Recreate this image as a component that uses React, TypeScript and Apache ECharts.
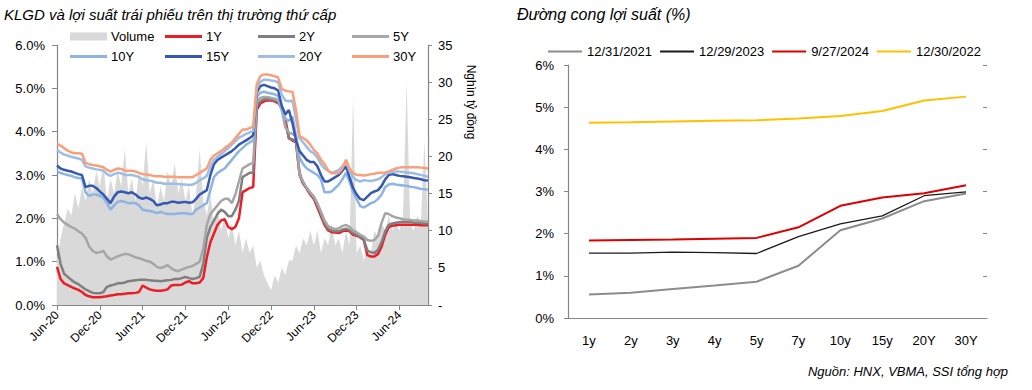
import React, { useEffect, useRef } from "react";
import * as echarts from "echarts";

// ---------- Left chart data (half-monthly, Jun-2020 .. Sep-2024) ----------
const tickLabels = ["Jun-20", "Dec-20", "Jun-21", "Dec-21", "Jun-22", "Dec-22", "Jun-23", "Dec-23", "Jun-24"];
const monthNames = ["Jan", "Feb", "Mar", "Apr", "May", "Jun", "Jul", "Aug", "Sep", "Oct", "Nov", "Dec"];

const volume = [
  6, 9, 11, 13, 12, 15, 13, 16, 14, 17, 15, 18, 16, 19, 14, 17, 15, 18, 16, 21, 15, 17, 14, 18, 16, 22, 15, 17, 13, 16,
  14, 18, 16, 19, 15, 17, 14, 16, 12, 15, 21, 14, 12, 15, 11, 13, 10, 12, 9, 11, 8, 10, 7, 9, 7, 8, 5, 6, 4, 3,
  2, 4, 3, 5, 4, 6, 6, 8, 7, 9, 8, 10, 8, 10, 7, 9, 8, 11, 8, 9, 7, 10, 8, 28, 7, 8, 6, 8, 7, 10,
  9, 11, 10, 12, 10, 11, 10, 12, 30, 11, 10, 12, 11, 22, 11,
];
const y1 = [
  0.88, 0.6, 0.5, 0.46, 0.42, 0.38, 0.35, 0.3, 0.23, 0.2, 0.18, 0.18, 0.18, 0.19, 0.2, 0.22, 0.23, 0.25, 0.25, 0.26,
  0.27, 0.27, 0.28, 0.3, 0.45, 0.4, 0.36, 0.34, 0.33, 0.33, 0.34, 0.36, 0.45, 0.46, 0.46, 0.47, 0.52, 0.55, 0.5, 0.5,
  0.52, 0.62, 1.1, 1.45, 1.65, 1.85, 1.95, 1.98, 1.8, 1.75, 1.8, 2.0, 2.6, 2.65, 2.7, 2.72, 4.5, 4.65, 4.7, 4.72,
  4.72, 4.7, 4.66, 4.55, 4.3, 3.85, 3.8, 3.75, 3.0, 2.8, 2.68, 2.55, 2.45, 2.25, 2.05, 1.85, 1.72, 1.68, 1.67, 1.66,
  1.7, 1.72, 1.7, 1.62, 1.6, 1.56, 1.5, 1.15, 1.12, 1.12, 1.18, 1.35, 1.62, 1.8, 1.83, 1.84, 1.85, 1.85, 1.85, 1.85,
  1.85, 1.85, 1.84, 1.84, 1.84,
];
const y2 = [
  1.38, 0.95, 0.72, 0.65, 0.58, 0.52, 0.48, 0.42, 0.36, 0.32, 0.28, 0.27, 0.27, 0.3, 0.42, 0.45, 0.47, 0.5, 0.5, 0.52,
  0.55, 0.56, 0.57, 0.58, 0.58, 0.58, 0.57, 0.56, 0.56, 0.55, 0.56, 0.57, 0.58, 0.6, 0.6, 0.62, 0.65, 0.62, 0.6, 0.62,
  0.65, 0.95, 1.55, 1.8, 1.95, 2.1, 2.2, 2.15, 2.05, 2.05, 2.2, 2.4, 2.95, 3.0, 3.05, 3.05, 4.6, 4.7, 4.75, 4.75,
  4.74, 4.72, 4.7, 4.55, 4.2, 3.85, 3.82, 3.78, 3.05, 2.82, 2.7, 2.58, 2.48, 2.3, 2.1, 1.9, 1.75, 1.72, 1.7, 1.7,
  1.74, 1.76, 1.72, 1.66, 1.62, 1.57, 1.52, 1.25, 1.22, 1.2, 1.28, 1.45, 1.7, 1.85, 1.88, 1.9, 1.91, 1.92, 1.92, 1.92,
  1.9, 1.9, 1.89, 1.88, 1.88,
];
const y5 = [
  2.1, 1.98, 1.9, 1.85, 1.8, 1.76, 1.7, 1.65, 1.55, 1.35, 1.25, 1.2, 1.22, 1.25, 1.12, 1.05, 1.08, 1.12, 1.15, 1.18,
  1.17, 1.14, 1.1, 1.08, 1.05, 1.02, 1.0, 0.95, 0.88, 0.85, 0.88, 0.92, 0.85, 0.8, 0.78, 0.82, 0.85, 0.88, 0.9, 0.95,
  1.0, 1.3, 1.85, 2.1, 2.2, 2.3, 2.4, 2.45, 2.45, 2.35, 2.55, 2.85, 3.15, 3.2, 3.25, 3.28, 4.7, 4.78, 4.8, 4.8,
  4.78, 4.76, 4.72, 4.5, 4.1, 3.98, 3.95, 3.9, 3.0, 2.85, 2.7, 2.6, 2.5, 2.35, 2.15, 1.95, 1.82, 1.78, 1.75, 1.77,
  1.82, 1.85, 1.8, 1.72, 1.68, 1.62, 1.58, 1.5, 1.48, 1.5, 1.6, 1.9, 2.12, 2.1, 2.05, 2.02, 2.0, 1.98, 1.97, 1.96,
  1.95, 1.95, 1.94, 1.93, 1.92,
];
const y10 = [
  3.08, 3.05, 3.02, 3.0, 2.98, 2.95, 2.93, 2.92, 2.6, 2.52, 2.55, 2.55, 2.52, 2.48, 2.35, 2.2, 2.3, 2.38, 2.4, 2.38,
  2.35, 2.36, 2.35, 2.3, 2.2, 2.18, 2.17, 2.15, 2.12, 2.15, 2.12, 2.1, 2.1, 2.1, 2.11, 2.12, 2.12, 2.1, 2.1, 2.2,
  2.25, 2.3, 2.35, 2.65, 2.95, 3.05, 3.1, 3.15, 3.25, 3.35, 3.45, 3.55, 3.62, 3.7, 3.75, 3.8, 4.8, 4.9, 4.92, 4.9,
  4.88, 4.86, 4.82, 4.5, 4.3, 4.25, 4.35, 3.9, 3.4, 3.25, 3.15, 3.1, 3.05, 3.0, 2.9, 2.6, 2.6, 2.62, 2.7, 2.78,
  2.9, 3.05, 2.85, 2.6, 2.45, 2.28, 2.25, 2.3, 2.35, 2.38, 2.45, 2.55, 2.72, 2.78, 2.8, 2.78, 2.77, 2.76, 2.75, 2.73,
  2.72, 2.7, 2.68, 2.67, 2.66,
];
const y15 = [
  3.22, 3.15, 3.12, 3.1, 3.08, 3.05, 3.02, 3.0, 2.72, 2.75, 2.75, 2.7, 2.62, 2.55, 2.45, 2.35, 2.5, 2.6, 2.62, 2.6,
  2.58, 2.6, 2.55, 2.48, 2.45, 2.48, 2.45, 2.4, 2.3, 2.32, 2.35, 2.35, 2.38, 2.38, 2.36, 2.37, 2.38, 2.36, 2.37, 2.45,
  2.55, 2.6, 2.65, 3.0, 3.25, 3.35, 3.4, 3.45, 3.5, 3.55, 3.62, 3.7, 3.75, 3.8, 3.85, 3.92, 4.9, 5.05, 5.08, 5.05,
  5.02, 5.0, 4.95, 4.6, 4.4, 4.5, 4.2, 3.8, 3.55, 3.45, 3.35, 3.3, 3.3, 3.2, 3.0, 2.85, 2.85, 2.9, 2.95, 3.0,
  3.1, 3.2, 2.95, 2.7, 2.55, 2.45, 2.42, 2.5, 2.58, 2.62, 2.65, 2.75, 2.9, 3.0, 3.02, 3.0, 2.98, 2.97, 2.96, 2.95,
  2.93, 2.92, 2.9, 2.88, 2.87,
];
const y20 = [
  3.58, 3.52, 3.47, 3.45, 3.42, 3.4, 3.38, 3.35, 3.2, 3.17, 3.15, 3.13, 3.12, 3.1, 3.02, 2.98, 3.02, 3.05, 3.04, 3.0,
  3.0, 3.0, 2.98, 2.95, 2.9, 2.88, 2.87, 2.85, 2.82, 2.82, 2.8, 2.8, 2.8, 2.8, 2.79, 2.78, 2.78, 2.77, 2.78, 2.82,
  2.88, 2.92, 2.98, 3.2, 3.35, 3.42, 3.48, 3.55, 3.62, 3.7, 3.78, 3.86, 3.9, 3.95, 3.98, 4.02, 5.0, 5.15, 5.2, 5.2,
  5.18, 5.17, 5.14, 4.85, 4.72, 4.7, 4.72, 4.3, 3.85, 3.75, 3.65, 3.55, 3.5, 3.4, 3.25, 3.15, 3.1, 3.05, 3.08, 3.12,
  3.2, 3.3, 3.1, 2.95, 2.88, 2.85, 2.88, 2.87, 2.86, 2.88, 2.9, 2.95, 3.02, 3.05, 3.07, 3.08, 3.08, 3.07, 3.06, 3.05,
  3.04, 3.02, 3.0, 2.98, 2.96,
];
const y30 = [
  3.72, 3.68, 3.62, 3.56, 3.52, 3.5, 3.5, 3.49, 3.28, 3.25, 3.23, 3.22, 3.2, 3.18, 3.12, 3.08, 3.12, 3.15, 3.14, 3.1,
  3.1, 3.1, 3.08, 3.05, 3.02, 3.01, 3.0, 2.98, 2.97, 2.97, 2.96, 2.96, 2.96, 2.96, 2.95, 2.95, 2.95, 2.95, 2.95, 3.0,
  3.05, 3.1, 3.15, 3.35, 3.45, 3.5, 3.55, 3.62, 3.68, 3.75, 3.85, 3.95, 4.05, 4.05, 4.08, 4.12, 5.1, 5.28, 5.32, 5.32,
  5.3, 5.28, 5.25, 4.98, 4.95, 4.93, 4.92, 4.5, 3.9, 3.85, 3.8, 3.7, 3.58, 3.5, 3.35, 3.25, 3.1, 3.04, 3.04, 3.05,
  3.15, 3.35, 3.15, 3.05, 3.0, 3.0, 2.99, 3.0, 3.02, 3.03, 3.05, 3.05, 3.06, 3.08, 3.12, 3.15, 3.17, 3.18, 3.18, 3.18,
  3.18, 3.18, 3.17, 3.16, 3.15,
];

// ---------- Right chart data (yield curves) ----------
const tenors = ["1y", "2y", "3y", "4y", "5y", "7y", "10y", "15y", "20Y", "30Y"];
const curve2021 = [0.56, 0.6, 0.69, 0.77, 0.86, 1.24, 2.08, 2.36, 2.77, 2.95];
const curve2023 = [1.54, 1.54, 1.56, 1.55, 1.53, 1.93, 2.23, 2.42, 2.9, 2.99];
const curve2024 = [1.84, 1.85, 1.86, 1.88, 1.9, 2.15, 2.66, 2.86, 2.96, 3.15];
const curve2022 = [4.63, 4.64, 4.66, 4.68, 4.69, 4.73, 4.79, 4.91, 5.16, 5.25];

const NARROW = "'Liberation Sans Narrow', 'Arial Narrow', 'Liberation Sans', Arial, sans-serif";
const SANS = "'Liberation Sans', Arial, sans-serif";
const AXIS_GRAY = "#868686";

const categories: string[] = volume.map((_, k) => {
  const m = 5 + Math.floor(k / 2);
  const yr = 2020 + Math.floor(m / 12);
  return `${k % 2 === 0 ? "01" : "15"}-${monthNames[m % 12]}-${yr}`;
});

const lineSeries = [
  { name: "1Y", data: y1, color: "#ee1c25" },
  { name: "2Y", data: y2, color: "#7f7f7f" },
  { name: "5Y", data: y5, color: "#a6a6a6" },
  { name: "10Y", data: y10, color: "#8eb4e3" },
  { name: "15Y", data: y15, color: "#3558b0" },
  { name: "20Y", data: y20, color: "#9dbde6" },
  { name: "30Y", data: y30, color: "#f9a07a" },
];

const leftLegend = [
  { name: "Volume", left: 70, cy: 37 },
  { name: "1Y", left: 165, cy: 37 },
  { name: "2Y", left: 258, cy: 37 },
  { name: "5Y", left: 352, cy: 37 },
  { name: "10Y", left: 70, cy: 57 },
  { name: "15Y", left: 165, cy: 57 },
  { name: "20Y", left: 258, cy: 57 },
  { name: "30Y", left: 352, cy: 57 },
];

export default function App() {
  const ref = useRef<HTMLDivElement>(null);
  useEffect(() => {
    if (!ref.current) return;
    const chart = echarts.init(ref.current, undefined, { renderer: "svg" });
    const legends: any[] = leftLegend.map((it) => ({
      data: [{ name: it.name, icon: "rect" }],
      left: it.left,
      top: it.cy - 7,
      padding: 0,
      itemGap: 0,
      itemWidth: 37,
      itemHeight: it.name === "Volume" ? 8 : 3,
      selectedMode: false,
      textStyle: { fontFamily: NARROW, fontSize: 13, color: "#000", padding: [0, 0, 0, -1] },
    }));
    legends.push({
      data: ["12/31/2021", "12/29/2023", "9/27/2024", "12/30/2022"].map((n) => ({ name: n, icon: "rect" })),
      left: 548,
      top: 45,
      padding: 0,
      itemGap: 8,
      itemWidth: 34,
      itemHeight: 2,
      selectedMode: false,
      textStyle: { fontFamily: SANS, fontSize: 13, color: "#000" },
    });

    const option: any = {
      animation: false,
      backgroundColor: "#fff",
      legend: legends,
      grid: [
        { left: 57, right: 604, top: 45, bottom: 85 },
        { left: 568, right: 45, top: 65, bottom: 72 },
      ],
      xAxis: [
        {
          type: "category",
          gridIndex: 0,
          data: categories,
          boundaryGap: false,
          axisLine: { lineStyle: { color: AXIS_GRAY, width: 1.2 } },
          axisTick: { interval: (i: number) => i % 12 === 0, length: 5, lineStyle: { color: AXIS_GRAY } },
          axisLabel: {
            interval: (i: number) => i % 12 === 0,
            formatter: (_v: string, i: number) => tickLabels[i / 12] ?? "",
            rotate: 45,
            margin: 8,
            fontFamily: NARROW,
            fontSize: 12,
            color: "#000",
          },
        },
        {
          type: "category",
          gridIndex: 1,
          data: tenors,
          boundaryGap: true,
          axisLine: { lineStyle: { color: AXIS_GRAY, width: 1.2 } },
          axisTick: { inside: true, length: 4, interval: 0, lineStyle: { color: AXIS_GRAY } },
          axisLabel: { margin: 16, fontFamily: SANS, fontSize: 13, color: "#000" },
        },
      ],
      yAxis: [
        {
          type: "value",
          gridIndex: 0,
          min: 0,
          max: 6,
          interval: 1,
          splitLine: { show: false },
          axisLine: { show: true, lineStyle: { color: AXIS_GRAY, width: 1.2 } },
          axisTick: { show: true, length: 5, lineStyle: { color: AXIS_GRAY } },
          axisLabel: {
            formatter: (v: number) => v.toFixed(1) + "%",
            margin: 12,
            fontFamily: NARROW,
            fontSize: 13,
            color: "#000",
          },
        },
        {
          type: "value",
          gridIndex: 0,
          position: "right",
          min: 0,
          max: 35,
          interval: 5,
          splitLine: { show: false },
          axisLine: { show: true, lineStyle: { color: AXIS_GRAY, width: 1.2 } },
          axisTick: { show: true, length: 4, lineStyle: { color: AXIS_GRAY } },
          axisLabel: {
            formatter: (v: number) => (v === 0 ? "-" : String(v)),
            margin: 10,
            fontFamily: NARROW,
            fontSize: 13,
            color: "#000",
          },
        },
        {
          type: "value",
          gridIndex: 1,
          min: 0,
          max: 6,
          interval: 1,
          splitLine: { show: false },
          axisLine: { show: true, lineStyle: { color: AXIS_GRAY, width: 1.2 } },
          axisTick: { show: true, length: 4, lineStyle: { color: AXIS_GRAY } },
          axisLabel: { formatter: "{value}%", margin: 14, fontFamily: SANS, fontSize: 13, color: "#000" },
        },
        {
          type: "value",
          gridIndex: 1,
          min: 0,
          max: 6,
          interval: 1,
          splitLine: { show: false },
          axisLine: { show: false },
          axisTick: { show: true, inside: true, length: 4, lineStyle: { color: AXIS_GRAY } },
          axisLabel: { show: false },
        },
      ],
      series: [
        {
          name: "Volume",
          type: "line",
          xAxisIndex: 0,
          yAxisIndex: 1,
          data: volume,
          symbol: "none",
          color: "#d9d9d9",
          lineStyle: { width: 0, color: "#d9d9d9" },
          areaStyle: { color: "#d9d9d9", opacity: 1 },
          z: 1,
        },
        ...lineSeries.map((s) => ({
          name: s.name,
          type: "line",
          xAxisIndex: 0,
          yAxisIndex: 0,
          data: s.data,
          symbol: "none",
          color: s.color,
          lineStyle: { width: 2.5, color: s.color },
          z: 2,
        })),
        {
          name: "12/31/2021",
          type: "line",
          xAxisIndex: 1,
          yAxisIndex: 2,
          data: curve2021,
          symbol: "none",
          color: "#8c8c8c",
          lineStyle: { width: 2, color: "#8c8c8c" },
        },
        {
          name: "12/29/2023",
          type: "line",
          xAxisIndex: 1,
          yAxisIndex: 2,
          data: curve2023,
          symbol: "none",
          color: "#1a1a1a",
          lineStyle: { width: 1.3, color: "#1a1a1a" },
        },
        {
          name: "9/27/2024",
          type: "line",
          xAxisIndex: 1,
          yAxisIndex: 2,
          data: curve2024,
          symbol: "none",
          color: "#dd0000",
          lineStyle: { width: 2, color: "#dd0000" },
        },
        {
          name: "12/30/2022",
          type: "line",
          xAxisIndex: 1,
          yAxisIndex: 2,
          data: curve2022,
          symbol: "none",
          color: "#ffc000",
          lineStyle: { width: 2, color: "#ffc000" },
        },
      ],
      graphic: [
        {
          type: "text",
          left: 4,
          top: 7,
          style: {
            text: "KLGD và lợi suất trái phiếu trên thị trường thứ cấp",
            font: `italic 15px ${NARROW}`,
            fill: "#000",
          },
        },
        {
          type: "text",
          left: 517,
          top: 6,
          style: { text: "Đường cong lợi suất (%)", font: `italic 16px ${NARROW}`, fill: "#000" },
        },
        {
          type: "text",
          x: 471,
          y: 102,
          rotation: -Math.PI / 2,
          style: {
            text: "Nghìn tỷ đồng",
            font: `12px ${NARROW}`,
            fill: "#000",
            align: "center",
            verticalAlign: "middle",
          },
        },
        {
          type: "text",
          right: 24,
          top: 365,
          style: { text: "Nguồn: HNX, VBMA, SSI tổng hợp", font: `italic 13px ${NARROW}`, fill: "#000" },
        },
      ],
    };
    chart.setOption(option);
    return () => chart.dispose();
  }, []);
  return <div ref={ref} style={{ position: "absolute", left: 0, top: 0, width: 1032, height: 390 }} />;
}
